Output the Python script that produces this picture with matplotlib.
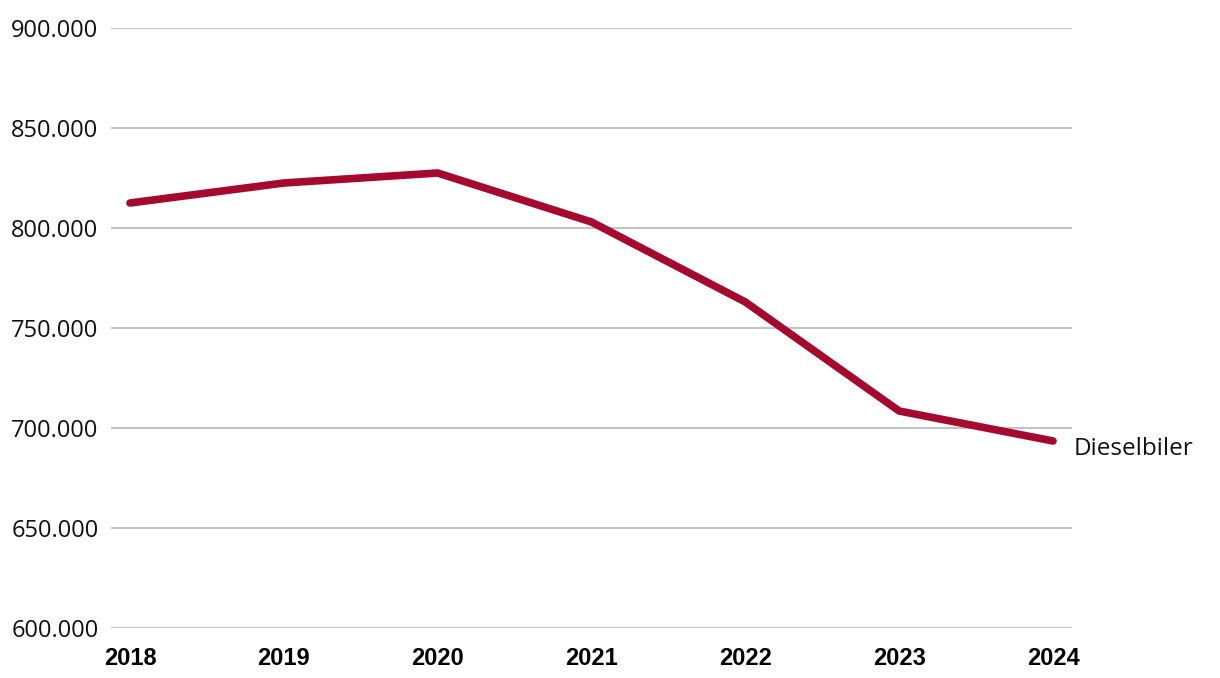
import matplotlib
matplotlib.use("Agg")
import matplotlib.pyplot as plt
from matplotlib.ticker import FuncFormatter

years = [2018, 2019, 2020, 2021, 2022, 2023, 2024]
diesel = [812500, 822500, 827500, 803000, 763000, 708500, 693500]
series_label = "Dieselbiler"
y_ticks = [600000, 650000, 700000, 750000, 800000, 850000, 900000]

fig = plt.figure(figsize=(12.2, 6.78), dpi=100)
ax = fig.add_axes([111/1220, 1-628/678, (1072-111)/1220, 600/678])

ax.plot(years, diesel, color="#A50A2E", linewidth=5.5, solid_capstyle="round", solid_joinstyle="miter", zorder=3)
ax.set_xlim(2018 - 0.1235, 2024 + 0.1235)
ax.set_ylim(600000, 900000)
ax.set_yticks(y_ticks)
ax.yaxis.set_major_formatter(FuncFormatter(lambda v, p: f"{int(v):,}".replace(",", ".")))
ax.set_xticks(years)
ax.set_xticklabels([str(y) for y in years], fontfamily="Liberation Sans", fontweight="bold", fontsize=17)
for lab in ax.get_yticklabels():
    lab.set_fontfamily("Open Sans")
    lab.set_fontsize(17)
    lab.set_color("#111111")
ax.grid(axis="y", color="#c4c4c4", linewidth=1.5)
ax.set_axisbelow(True)
for s in ax.spines.values():
    s.set_visible(False)
ax.tick_params(axis="both", length=0)
ax.tick_params(axis="y", pad=9)
ax.tick_params(axis="x", pad=14)

ax.annotate(series_label, xy=(years[-1], diesel[-1]), xytext=(14.5, -6), textcoords="offset points",
            fontfamily="Open Sans", fontsize=17.5, va="center", ha="left", color="#111111",
            annotation_clip=False)

fig.savefig("out.png", dpi=100, facecolor="white")
